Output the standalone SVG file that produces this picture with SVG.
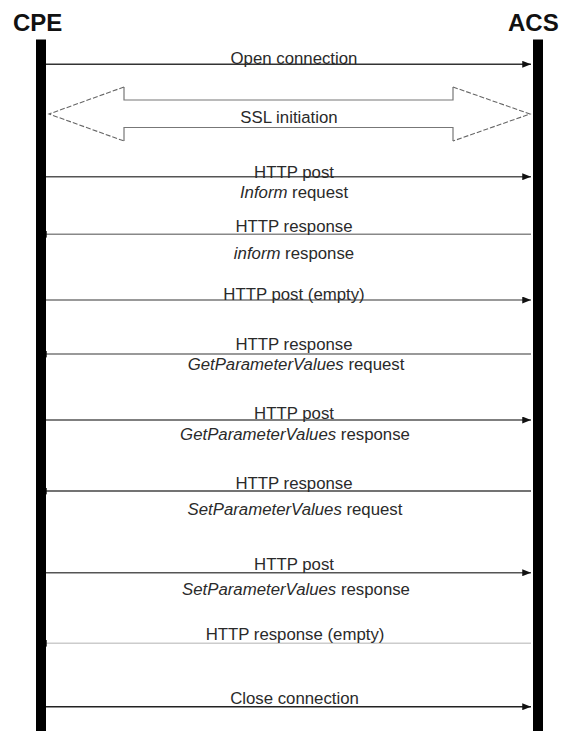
<svg xmlns="http://www.w3.org/2000/svg" width="563" height="731" viewBox="0 0 563 731">
<style>
.title{font-family:"Liberation Sans",Arial,sans-serif;font-weight:bold;font-size:24px;fill:#111}
.lbl{font-family:"Liberation Sans",Arial,sans-serif;font-size:16.8px;fill:#2a2a2a;text-anchor:middle}
.it{font-style:italic}
.bar{fill:#000}
.msg{fill:none;stroke-width:1.5}
</style>
<defs>
<marker id="ah" viewBox="0 0 10 8" refX="10" refY="4" markerWidth="9" markerHeight="7" markerUnits="userSpaceOnUse" orient="auto">
<path d="M0,0 L10,4 L0,8 Z" fill="#111"/>
</marker>
</defs>
<rect width="563" height="731" fill="#fff"/>
<g id="ssl">
<path d="M124,87 L124,100 L453,100 L453,87 M124,141 L124,127.5 L453,127.5 L453,141" fill="none" stroke="#777" stroke-width="1.2"/>
<path d="M124,87 L49,114 L124,141 M453,87 L530,114 L453,141" fill="none" stroke="#666" stroke-width="1.1" stroke-dasharray="5,2"/>
<text class="lbl" x="289" y="123">SSL initiation</text>
</g>
<g id="connectors">
<line class="msg" x1="46" y1="64.3" x2="531" y2="64.3" stroke="#333" marker-end="url(#ah)"/>
<line class="msg" x1="46" y1="176.7" x2="531" y2="176.7" stroke="#555" marker-end="url(#ah)"/>
<line class="msg" x1="531" y1="234.3" x2="38" y2="234.3" stroke="#888" marker-end="url(#ah)"/>
<line class="msg" x1="46" y1="300" x2="531" y2="300" stroke="#777" marker-end="url(#ah)"/>
<line class="msg" x1="531" y1="354" x2="38" y2="354" stroke="#777" marker-end="url(#ah)"/>
<line class="msg" x1="46" y1="420" x2="531" y2="420" stroke="#555" marker-end="url(#ah)"/>
<line class="msg" x1="531" y1="491" x2="38" y2="491" stroke="#444" marker-end="url(#ah)"/>
<line class="msg" x1="46" y1="572.7" x2="531" y2="572.7" stroke="#555" marker-end="url(#ah)"/>
<line class="msg" x1="531" y1="643.3" x2="38" y2="643.3" stroke="#ccc" stroke-width="1" marker-end="url(#ah)"/>
<line class="msg" x1="46" y1="706.7" x2="531" y2="706.7" stroke="#222" marker-end="url(#ah)"/>
</g>
<g id="cpe">
<rect class="bar" x="36" y="39.5" width="10" height="691.5"/>
<text class="title" x="13" y="31">CPE</text>
</g>
<g id="acs">
<rect class="bar" x="533" y="39.5" width="10" height="691.5"/>
<text class="title" x="508" y="31">ACS</text>
</g>
<g id="labels">
<text class="lbl" x="294" y="63.5">Open connection</text>
<text class="lbl" x="294" y="178">HTTP post</text>
<text class="lbl" x="294" y="198"><tspan class="it">Inform</tspan> request</text>
<text class="lbl" x="294" y="232">HTTP response</text>
<text class="lbl" x="294" y="258.5"><tspan class="it">inform</tspan> response</text>
<text class="lbl" x="294" y="300">HTTP post (empty)</text>
<text class="lbl" x="294" y="350">HTTP response</text>
<text class="lbl" x="296" y="370"><tspan class="it">GetParameterValues</tspan> request</text>
<text class="lbl" x="294" y="418.5">HTTP post</text>
<text class="lbl" x="295" y="440"><tspan class="it">GetParameterValues</tspan> response</text>
<text class="lbl" x="294" y="488.7">HTTP response</text>
<text class="lbl" x="295" y="515"><tspan class="it">SetParameterValues</tspan> request</text>
<text class="lbl" x="294" y="569.7">HTTP post</text>
<text class="lbl" x="296" y="595"><tspan class="it">SetParameterValues</tspan> response</text>
<text class="lbl" x="295" y="640.3">HTTP response (empty)</text>
<text class="lbl" x="294.5" y="704.3">Close connection</text>
</g>
</svg>
